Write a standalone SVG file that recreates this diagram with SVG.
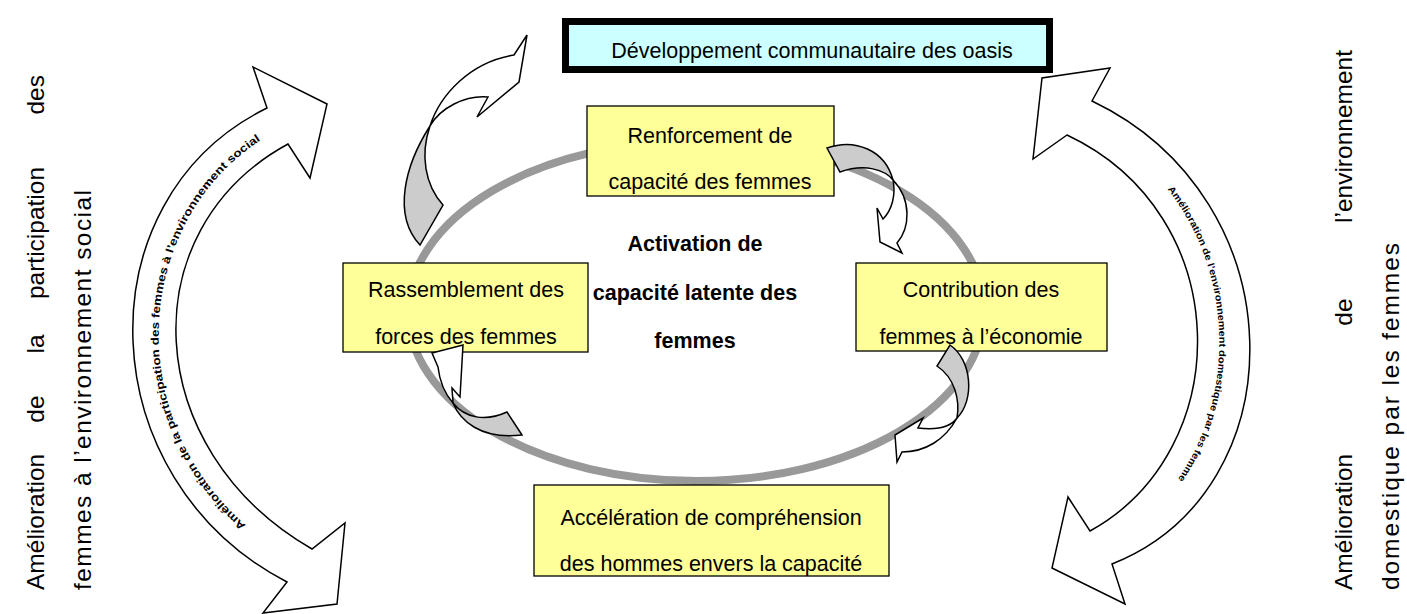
<svg xmlns="http://www.w3.org/2000/svg" width="1407" height="614" viewBox="0 0 1407 614">
<style>
.box{fill:#FFFF99;stroke:#000;stroke-width:1.3}
.t{font-family:"Liberation Sans",Arial,sans-serif;font-size:21.5px;fill:#000;text-anchor:middle}
.b{font-weight:bold}
.side{font-family:"Liberation Sans",Arial,sans-serif;font-size:24.5px;fill:#000}
.arr{fill:#fff;stroke:#000;stroke-width:1.5;stroke-linejoin:miter}
.g{fill:#CCCCCC;stroke:#000;stroke-width:1.5;stroke-linejoin:miter}
.bt{font-family:"Liberation Sans",Arial,sans-serif;font-weight:bold;fill:#000}
</style>
<defs>
<path id="pL" d="M 304,564 C 109,465 119,210 282,128" fill="none"/>
<path id="pR" d="M 1077,120 C 1263,200 1263,470 1098,546" fill="none"/>
</defs>
<rect width="1407" height="614" fill="#fff"/>

<g id="connectors">
<ellipse id="cycle" cx="696" cy="311" rx="288" ry="170" fill="none" stroke="#999999" stroke-width="8"/>
<g id="bigLeft">
<path class="arr" d="M 267,108 L 253,67 L 327,104 L 310,178 L 288,144 C 130,230 140,450 312,549 L 345,523 L 337,604 L 263,613 L 287,582 C 90,480 80,200 267,108 Z"/>
<text class="bt" font-size="11"><textPath href="#pL" startOffset="70" textLength="445" lengthAdjust="spacingAndGlyphs">Amélioration de la participation des femmes à l’environnement social</textPath></text>
</g>
<g id="bigRight">
<path class="arr" d="M 1092,101 L 1110,68 L 1042,78 L 1033,159 L 1067,135 C 1237,215 1237,450 1090,531 L 1068,497 L 1052,568 L 1125,604 L 1112,564 C 1299,490 1299,200 1092,101 Z"/>
<text class="bt" font-size="9.5"><textPath href="#pR" startOffset="115" textLength="310" lengthAdjust="spacingAndGlyphs">Amélioration de l’environnement domestique par les femme</textPath></text>
</g>
</g>

<g id="top-node">
<rect x="565.5" y="21.5" width="484" height="48" fill="#CCFFFF" stroke="#000" stroke-width="7"/>
<text class="t" x="812" y="58">Développement communautaire des oasis</text>
</g>
<g id="renforcement">
<rect class="box" x="587" y="106" width="247" height="90"/>
<text class="t" x="710" y="143">Renforcement de</text>
<text class="t" x="710" y="189">capacité des femmes</text>
</g>
<g id="rassemblement">
<rect class="box" x="343" y="263" width="245" height="89"/>
<text class="t" x="466" y="297">Rassemblement des</text>
<text class="t" x="466" y="344">forces des femmes</text>
</g>
<g id="contribution">
<rect class="box" x="856" y="263" width="251" height="88"/>
<text class="t" x="981" y="297">Contribution des</text>
<text class="t" x="981" y="344">femmes à l’économie</text>
</g>
<g id="acceleration">
<rect class="box" x="534" y="485" width="355" height="91"/>
<text class="t" x="711" y="525">Accélération de compréhension</text>
<text class="t" x="711" y="571">des hommes envers la capacité</text>
</g>
<g id="center-label">
<text class="t b" x="695" y="251">Activation de</text>
<text class="t b" x="695" y="300">capacité latente des</text>
<text class="t b" x="695" y="348">femmes</text>
</g>

<g id="small-arrows">
<g id="arrow-tl">
<path class="g" d="M 430,126 C 405,165 392,215 420,245 L 443,205 C 425,185 420,155 430,126 Z"/>
<path class="arr" d="M 430,126 C 440,95 470,62 514,55 L 527,35 L 519,82 L 477,117 L 488,97 C 465,95 440,108 430,126 Z"/>
</g>
<g id="arrow-tr">
<path class="g" d="M 827,148 C 855,138 885,150 893,180 C 885,170 865,163 840,172 Z"/>
<path class="arr" d="M 893,180 C 896,195 892,210 883,219 L 877,208 L 880,242 L 902,253 L 897,243 C 910,228 912,200 893,180 Z"/>
</g>
<g id="arrow-bl">
<path class="arr" d="M 438,367 L 432,353 L 463,345 L 460,397 L 452,388 C 452,393 453,398 453,403 C 446,395 440,385 438,367 Z"/>
<path class="g" d="M 453,403 C 460,420 480,440 522,435 L 507,412 C 485,422 465,418 453,403 Z"/>
</g>
<g id="arrow-br">
<path class="g" d="M 950,345 C 972,360 975,400 957,418 C 960,400 955,378 937,366 Z"/>
<path class="arr" d="M 957,418 C 950,428 935,430 918,428 L 923,418 L 895,435 L 897,462 L 902,452 C 925,452 945,440 957,418 Z"/>
</g>
</g>

<g id="left-label" transform="rotate(-90)">
<text class="side" x="-590" y="44">Amélioration</text>
<text class="side" x="-409" y="44" text-anchor="middle">de</text>
<text class="side" x="-344" y="44" text-anchor="middle">la</text>
<text class="side" x="-233" y="44" text-anchor="middle">participation</text>
<text class="side" x="-75" y="44" text-anchor="end">des</text>
<text class="side" x="-590" y="91" textLength="400" lengthAdjust="spacing">femmes à l’environnement social</text>
</g>
<g id="right-label" transform="rotate(-90)">
<text class="side" x="-590" y="1352">Amélioration</text>
<text class="side" x="-312" y="1352" text-anchor="middle">de</text>
<text class="side" x="-50" y="1352" text-anchor="end">l’environnement</text>
<text class="side" x="-590" y="1399" textLength="347" lengthAdjust="spacing">domestique par les femmes</text>
</g>
</svg>
